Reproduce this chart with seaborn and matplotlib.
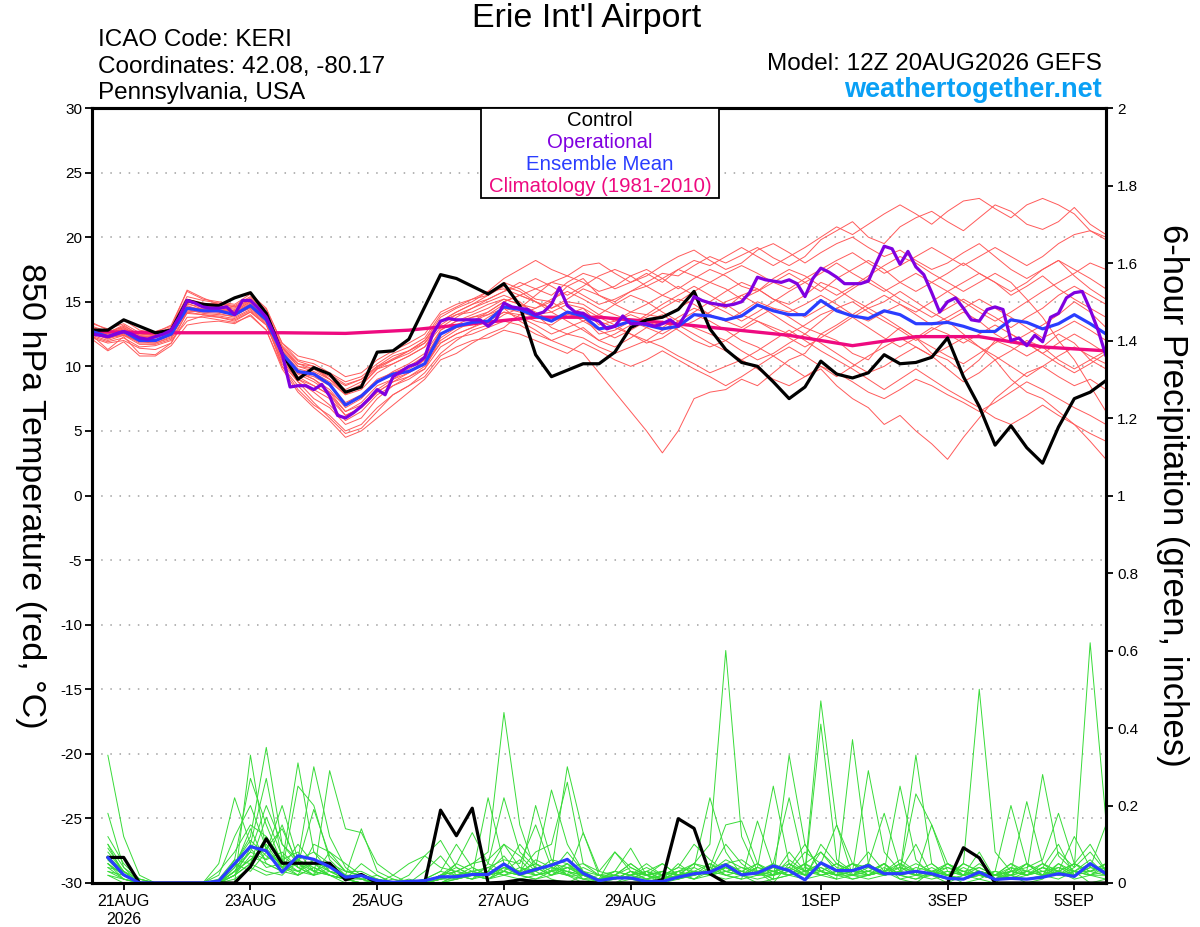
import matplotlib
matplotlib.use('Agg')
import matplotlib.pyplot as plt
from matplotlib.patches import Rectangle
import numpy as np
import pandas as pd
import seaborn as sns

# time axes: 6-hourly ensemble, 3-hourly operational, daily climatology
times_6h = pd.date_range('2026-08-20 12:00', '2026-09-05 12:00', freq='6h')
times_3h = pd.date_range('2026-08-20 12:00', '2026-09-05 12:00', freq='3h')
times_clim = pd.date_range('2026-08-20 12:00', '2026-09-05 12:00', freq='1D')
precip_times = times_6h[1:]

tick_dates = pd.to_datetime(['2026-08-21', '2026-08-23', '2026-08-25', '2026-08-27',
                             '2026-08-29', '2026-09-01', '2026-09-03', '2026-09-05'])
tick_labels = ['21AUG\n2026', '23AUG', '25AUG', '27AUG', '29AUG', '1SEP', '3SEP', '5SEP']

# 850 hPa temperature (C)
control_temp = [12.8, 12.8, 13.6, 13.1, 12.6, 12.8, 15.1, 14.8, 14.7, 15.3, 15.7, 14.1,
                11.0, 9.0, 9.9, 9.4, 8.0, 8.4, 11.1, 11.2, 12.1, 14.6,
                17.1, 16.8, 16.2, 15.6, 16.4, 14.7, 10.9, 9.2, 9.7, 10.2, 10.2,
                11.1, 13.0, 13.6, 13.8, 14.4, 15.8, 12.9, 11.3, 10.3, 10.0, 8.8,
                7.5, 8.4, 10.4, 9.4, 9.1, 9.5, 10.9, 10.2, 10.3, 10.7, 12.2,
                9.2, 6.9, 3.9, 5.4, 3.7, 2.5, 5.3, 7.5, 8.0, 8.9]

mean_temp = [12.7, 12.3, 12.7, 12.0, 12.0, 12.5, 14.5, 14.3, 14.3, 14.0, 14.7, 13.6,
             11.0, 9.6, 9.4, 8.6, 7.0, 7.7, 8.8, 9.4, 9.6, 10.2,
             12.5, 13.1, 13.4, 13.5, 14.6, 14.4, 13.9, 13.5, 14.2, 13.9, 12.9,
             13.1, 13.5, 13.2, 12.9, 13.1, 14.0, 13.9, 13.6, 13.9, 14.75, 14.3,
             14.0, 14.0, 15.1, 14.3, 13.9, 13.7, 14.3, 14.0, 13.3, 13.3, 13.4,
             13.1, 12.7, 12.7, 13.6, 13.4, 12.9, 13.3, 14.0, 13.3, 12.5]

oper_temp = [12.5, 12.4, 12.3, 12.5, 12.7, 12.5, 12.2, 12.1, 12.3, 12.5, 12.8, 13.8,
             15.1, 14.9, 14.6, 14.5, 14.5, 14.6, 14.0, 15.1, 15.1, 14.5, 13.8, 12.5,
             11.0, 8.4, 8.5, 8.5, 8.2, 8.6, 7.7, 6.2, 6.0, 6.4, 6.9, 7.5,
             8.2, 7.8, 9.2, 9.6, 10.0, 10.2, 10.7, 12.5, 13.5, 13.7, 13.6, 13.6,
             13.6, 13.6, 13.1, 13.6, 14.9,
             14.6, 14.5, 14.4, 14.0, 14.2, 14.8, 16.1, 14.7, 14.2, 14.1, 13.7, 13.5,
             12.9, 13.1, 13.9, 13.3, 13.3, 13.3, 13.1, 13.3, 13.6, 13.1, 14.1, 15.4,
             15.1, 14.9, 14.8, 14.7, 14.8, 15.0, 15.7, 16.9, 16.7, 16.6, 16.5, 16.7,
             16.4, 15.4,
             16.8, 17.6, 17.3, 16.9, 16.4, 16.4, 16.4, 16.6, 18.0, 19.3, 19.1, 17.9,
             18.9, 17.7, 17.1, 15.7, 14.2, 15.0, 15.3, 14.5, 13.6, 13.5, 14.4, 14.6,
             14.4, 12.0, 12.2, 11.6, 12.4, 11.9, 13.8, 14.1, 15.3, 15.7, 15.8, 14.4,
             12.8, 10.8]

clim_temp = [12.7, 12.6, 12.6, 12.6, 12.55, 12.8, 13.3, 13.8, 13.8, 13.4, 12.9,
             12.4, 11.6, 12.3, 12.3, 11.5, 11.2]

temp_members = [
    [13.0, 12.6, 13.2, 12.4, 12.5, 13.0, 15.9, 15.3, 14.8, 14.6, 15.3, 14.2,
     11.5, 10.2, 10.0, 9.0, 8.0, 8.6, 9.8, 10.5, 11.0, 11.8,
     13.5, 14.2, 14.8, 15.5, 16.5, 16.0, 15.2, 15.0, 16.2, 16.8, 15.5,
     15.0, 15.8, 16.5, 17.2, 17.0, 17.8, 18.5, 18.0, 18.6, 19.2, 18.4,
     17.8, 18.5, 19.8, 20.5, 21.2, 20.0, 19.5, 20.8, 21.5, 22.0, 21.2,
     20.5, 21.5, 22.5, 22.0, 21.0, 20.6, 21.2, 22.3, 21.0, 20.2],
    [12.4, 11.3, 12.3, 11.0, 10.9, 11.8, 14.2, 14.0, 13.8, 13.5, 14.2, 13.2,
     10.5, 8.8, 7.5, 6.8, 5.5, 6.0, 7.5, 8.5, 9.2, 10.0,
     11.8, 12.5, 13.0, 13.8, 14.5, 13.5, 12.8, 12.0, 11.5, 11.0, 9.5,
     8.0, 6.5, 5.0, 3.3, 5.0, 7.5, 8.0, 8.2, 9.0, 8.5, 9.5,
     10.5, 11.0, 12.5, 12.0, 11.0, 10.5, 12.0, 13.0, 12.2, 11.0, 10.5,
     9.5, 10.5, 12.0, 11.5, 10.8, 11.5, 12.5, 11.8, 10.5, 9.8],
    [12.8, 12.5, 12.9, 12.2, 12.3, 12.6, 14.8, 14.6, 14.5, 14.2, 14.8, 13.8,
     10.8, 9.5, 9.0, 8.0, 6.5, 7.2, 8.5, 9.0, 9.8, 10.5,
     12.8, 13.5, 14.0, 14.5, 15.2, 14.8, 14.2, 13.5, 14.0, 13.8, 12.5,
     12.8, 13.5, 13.0, 12.5, 13.2, 14.0, 13.5, 12.8, 12.0, 11.5, 10.8,
     10.0, 9.2, 9.8, 8.5, 7.5, 6.8, 5.5, 6.2, 5.0, 4.0, 2.8,
     4.5, 6.0, 7.5, 8.5, 9.5, 10.0, 9.2, 8.5, 9.0, 8.2],
    [13.4, 12.8, 13.6, 12.8, 12.6, 13.2, 15.8, 15.2, 15.0, 14.8, 15.6, 14.5,
     11.8, 10.5, 10.2, 9.5, 8.8, 9.2, 10.2, 11.0, 11.5, 12.2,
     14.0, 14.6, 15.2, 15.8, 16.0, 15.5, 15.0, 14.5, 15.0, 14.8, 14.0,
     13.5, 14.2, 14.0, 13.8, 14.5, 15.2, 15.0, 14.5, 15.5, 16.0, 15.2,
     14.8, 15.5, 16.5, 16.0, 15.2, 14.5, 15.0, 15.8, 15.0, 14.2, 13.5,
     12.5, 11.5, 10.5, 9.0, 8.0, 7.5, 6.5, 5.5, 4.2, 2.8],
    [12.5, 12.2, 12.5, 11.8, 11.8, 12.2, 14.5, 14.5, 14.2, 14.0, 14.5, 13.5,
     10.0, 8.5, 7.2, 6.0, 4.8, 5.2, 6.5, 7.8, 8.5, 9.5,
     11.0, 12.0, 12.8, 13.2, 14.0, 14.5, 15.5, 16.5, 17.0, 16.5, 15.8,
     16.2, 17.0, 17.5, 16.8, 16.0, 16.8, 17.5, 17.0, 16.2, 15.8, 16.5,
     17.2, 16.5, 15.8, 16.8, 17.5, 18.2, 17.5, 16.5, 15.8, 16.5, 17.2,
     18.0, 17.2, 16.5, 15.5, 16.2, 17.0, 16.0, 15.2, 14.5, 13.8],
    [12.9, 12.4, 12.8, 12.0, 12.2, 12.7, 14.9, 14.4, 14.6, 14.3, 15.0, 13.9,
     11.2, 9.8, 9.5, 8.8, 7.8, 8.5, 9.8, 10.2, 10.8, 11.5,
     13.0, 13.8, 14.5, 15.0, 15.5, 15.0, 14.0, 13.0, 12.5, 13.0, 12.0,
     11.5, 12.2, 13.0, 13.5, 12.8, 12.0, 11.5, 12.0, 11.2, 10.5, 11.0,
     11.8, 12.5, 11.8, 11.0, 10.2, 9.5, 10.0, 10.8, 11.5, 10.8, 9.8,
     8.8, 9.5, 10.5, 11.2, 12.0, 11.5, 10.5, 9.8, 10.5, 11.2],
    [13.1, 12.7, 13.0, 12.3, 12.4, 12.9, 15.2, 14.9, 14.7, 14.5, 15.2, 14.0,
     11.5, 10.0, 9.8, 9.2, 8.5, 9.0, 10.0, 10.8, 11.2, 12.0,
     13.8, 14.5, 15.0, 15.8, 16.8, 17.5, 18.2, 17.5, 17.0, 17.8, 18.0,
     17.2, 16.5, 17.0, 17.8, 18.5, 19.0, 18.2, 17.5, 18.0, 19.0, 19.5,
     18.8, 18.0, 18.8, 19.5, 20.0, 19.2, 18.5, 19.0, 18.2, 17.5, 18.0,
     18.8, 19.5, 18.5, 17.5, 16.8, 17.5, 18.2, 17.0, 16.0, 15.2],
    [12.6, 12.1, 12.6, 12.0, 11.9, 12.4, 14.3, 14.2, 14.1, 13.8, 14.4, 13.4,
     10.6, 9.0, 8.2, 7.5, 6.2, 6.8, 8.0, 8.8, 9.2, 9.8,
     12.2, 13.0, 13.2, 13.5, 14.2, 14.0, 13.5, 13.2, 14.0, 14.5, 13.8,
     13.2, 12.5, 11.8, 12.2, 13.0, 13.5, 14.2, 15.0, 15.5, 14.8, 14.0,
     13.2, 12.5, 13.5, 14.5, 15.0, 14.2, 13.5, 12.8, 12.0, 12.8, 13.5,
     14.2, 13.5, 12.5, 11.8, 12.5, 13.2, 14.0, 15.0, 14.2, 13.0],
    [12.3, 11.9, 12.2, 11.5, 11.6, 12.0, 13.5, 13.9, 13.8, 13.6, 14.2, 13.2,
     10.2, 8.8, 8.0, 7.0, 5.8, 6.5, 7.8, 8.5, 9.0, 9.8,
     11.5, 12.2, 12.5, 13.0, 13.5, 13.2, 12.5, 12.0, 12.5, 12.2, 11.5,
     11.0, 11.5, 12.0, 11.5, 10.8, 10.2, 9.5, 10.0, 10.5, 9.8, 9.0,
     8.5, 9.2, 10.0, 9.5, 8.8, 8.0, 7.5, 8.2, 9.0, 8.5, 7.8,
     7.2, 6.5, 7.2, 8.0, 8.8, 8.2, 7.5, 6.8, 6.2, 5.5],
    [12.7, 12.3, 12.6, 12.1, 12.0, 12.5, 14.6, 14.4, 14.4, 14.1, 14.8, 13.7,
     11.0, 9.5, 9.2, 8.5, 7.2, 7.8, 9.0, 9.5, 10.0, 10.8,
     12.5, 13.2, 13.8, 14.0, 14.8, 14.5, 14.0, 14.2, 14.8, 14.5, 13.2,
     13.5, 14.0, 13.5, 13.0, 13.8, 14.5, 14.0, 13.5, 14.2, 15.0, 14.5,
     14.2, 14.8, 15.5, 14.8, 14.0, 13.5, 14.2, 14.8, 14.0, 13.2, 13.8,
     14.5, 15.2, 14.5, 13.8, 13.0, 12.2, 12.8, 13.5, 12.8, 12.0],
    [12.2, 11.8, 12.0, 11.4, 11.3, 11.8, 13.8, 13.8, 13.6, 13.4, 13.9, 12.8,
     9.8, 8.0, 6.8, 5.8, 4.5, 5.0, 6.0, 7.0, 8.0, 9.0,
     10.5, 11.0, 11.8, 12.5, 13.0, 14.0, 14.5, 15.0, 14.2, 13.5, 14.0,
     14.8, 15.5, 15.0, 14.2, 13.5, 14.2, 15.0, 15.8, 16.5, 16.0, 15.2,
     14.5, 13.8, 14.5, 15.2, 16.0, 16.8, 16.0, 15.2, 14.5, 13.8, 14.5,
     15.2, 14.5, 13.8, 13.0, 13.8, 14.5, 15.5, 16.2, 15.5, 14.8],
    [13.0, 12.6, 13.1, 12.5, 12.4, 12.8, 15.0, 14.8, 14.9, 14.6, 15.1, 14.1,
     11.3, 10.0, 9.6, 9.0, 8.2, 8.8, 9.9, 10.6, 11.2, 11.8,
     13.2, 14.0, 14.5, 15.2, 15.8, 16.5, 16.0, 15.5, 16.5, 17.2, 16.8,
     16.0, 16.5, 17.2, 16.5, 17.5, 18.2, 17.8, 18.5, 19.2, 18.5, 17.8,
     18.5, 19.2, 20.0, 20.8, 20.2, 21.0, 21.8, 22.5, 21.8, 21.0, 22.0,
     22.8, 23.0, 22.2, 21.5, 22.5, 23.0, 22.5, 21.8, 20.5, 19.8],
    [12.8, 12.4, 12.7, 12.2, 12.2, 12.6, 14.7, 14.3, 14.4, 14.2, 14.9, 13.8,
     11.0, 9.6, 9.0, 8.2, 6.8, 7.5, 8.8, 9.6, 10.2, 11.0,
     12.8, 13.5, 13.8, 14.2, 15.0, 15.5, 15.0, 14.2, 13.5, 12.8, 12.0,
     12.5, 13.2, 14.0, 14.8, 15.5, 16.2, 15.5, 14.8, 14.0, 13.5, 12.8,
     12.2, 11.5, 12.2, 13.0, 13.8, 14.5, 13.8, 13.0, 12.2, 11.5, 10.8,
     10.2, 11.0, 11.8, 12.5, 11.8, 11.0, 10.2, 9.5, 10.2, 11.0],
    [12.5, 12.2, 12.4, 11.9, 11.8, 12.3, 14.4, 14.1, 14.0, 13.9, 14.6, 13.5,
     10.8, 9.2, 8.5, 7.8, 6.5, 7.0, 8.2, 9.0, 9.5, 10.5,
     12.0, 12.8, 13.5, 14.2, 15.0, 15.5, 16.0, 16.5, 16.2, 15.5, 14.8,
     15.2, 15.8, 16.2, 15.5, 15.0, 15.8, 16.5, 16.0, 15.2, 15.8, 16.8,
     17.5, 17.0, 16.2, 15.5, 16.2, 17.0, 17.8, 18.5, 18.0, 17.2, 16.5,
     15.8, 16.5, 17.2, 16.5, 15.2, 13.8, 12.0, 10.5, 8.5, 6.5],
    [13.3, 12.9, 13.3, 12.6, 12.7, 13.1, 15.4, 15.1, 14.9, 14.7, 15.4, 14.4,
     11.8, 10.8, 10.5, 10.0, 9.2, 9.5, 10.5, 11.2, 11.8, 12.5,
     14.2, 14.8, 15.2, 15.5, 16.2, 15.8, 15.0, 14.5, 15.2, 16.0, 15.5,
     14.8, 14.2, 14.8, 15.5, 16.2, 15.5, 14.8, 14.2, 13.5, 14.2, 15.0,
     15.8, 16.5, 17.2, 18.0, 17.2, 16.5, 15.8, 16.5, 17.2, 16.5, 15.8,
     15.0, 14.2, 13.5, 14.2, 15.0, 15.8, 16.5, 17.2, 18.0, 17.5],
    [12.4, 12.0, 12.4, 11.7, 11.7, 12.1, 14.1, 14.0, 13.9, 13.7, 14.3, 13.3,
     10.4, 9.0, 8.5, 7.8, 6.2, 6.8, 8.0, 8.8, 9.5, 10.2,
     11.8, 12.5, 13.0, 13.5, 14.2, 13.8, 13.2, 12.5, 13.0, 13.5, 12.8,
     12.2, 12.8, 13.5, 14.0, 13.2, 12.5, 11.8, 11.2, 10.5, 11.2, 12.0,
     12.8, 12.0, 11.2, 10.5, 9.8, 9.0, 8.2, 9.0, 9.8, 9.0, 8.2,
     7.5, 6.8, 6.0, 5.5, 6.2, 7.0, 6.2, 5.5, 4.8, 4.2],
    [12.9, 12.5, 12.9, 12.3, 12.3, 12.7, 15.0, 14.7, 14.5, 14.3, 15.0, 14.0,
     11.4, 10.2, 9.8, 9.0, 7.8, 8.2, 9.5, 10.2, 10.8, 11.5,
     13.5, 14.0, 14.2, 14.8, 15.2, 14.8, 14.5, 15.2, 15.8, 15.2, 14.5,
     14.0, 13.5, 13.8, 14.5, 15.2, 14.8, 14.0, 13.5, 13.0, 13.8, 14.5,
     13.8, 13.0, 12.5, 13.2, 14.0, 14.8, 15.5, 14.8, 14.2, 15.0, 15.8,
     16.5, 17.2, 16.5, 15.8, 16.5, 17.5, 18.2, 17.5, 16.8, 16.0],
    [12.6, 12.2, 12.5, 11.9, 12.0, 12.4, 14.2, 14.3, 14.2, 14.0, 14.6, 13.6,
     10.9, 9.4, 8.8, 8.0, 7.0, 7.6, 8.8, 9.4, 10.0, 10.6,
     12.5, 13.0, 13.5, 14.0, 14.5, 14.2, 13.8, 13.5, 13.8, 14.2, 13.5,
     13.0, 12.5, 12.0, 12.8, 13.5, 13.0, 12.5, 12.0, 12.8, 13.5, 13.0,
     12.5, 13.2, 14.0, 14.5, 13.8, 13.0, 12.2, 11.5, 12.2, 13.0, 12.5,
     11.8, 12.5, 13.2, 12.5, 11.8, 11.0, 11.8, 12.5, 11.8, 11.0],
    [12.1, 11.2, 11.9, 10.8, 10.8, 11.6, 13.2, 13.4, 13.5, 13.3, 14.0, 12.8,
     10.0, 8.2, 7.0, 6.2, 5.0, 5.5, 6.8, 7.8, 8.5, 9.2,
     10.8, 11.5, 12.0, 12.2, 12.8, 12.5, 12.0, 11.5, 11.0, 11.8, 11.2,
     10.5, 10.0, 10.5, 11.2, 10.5, 9.8, 9.2, 8.5, 9.2, 10.0, 10.8,
     11.5, 10.8, 10.0, 9.2, 10.0, 10.8, 11.5, 12.2, 11.5, 10.8, 11.5,
     12.2, 11.5, 10.8, 10.0, 9.2, 10.0, 10.8, 11.5, 10.8, 10.2],
    [13.0, 12.5, 13.0, 12.4, 12.5, 12.9, 15.1, 14.6, 14.7, 14.4, 15.1, 14.1,
     11.6, 10.4, 10.0, 9.4, 8.6, 9.0, 10.0, 10.5, 11.2, 12.0,
     13.5, 14.2, 14.8, 15.2, 15.8, 16.2, 16.8, 16.2, 15.5, 16.2, 17.0,
     17.5, 17.0, 16.2, 16.8, 17.5, 17.0, 16.5, 17.2, 17.8, 17.2, 16.5,
     16.0, 16.8, 17.5, 18.2, 18.8, 18.0, 17.2, 17.8, 18.5, 19.2, 18.5,
     17.8, 18.5, 19.2, 18.5, 17.8, 18.5, 19.5, 20.2, 20.5, 20.0],
]

# 6-hour precipitation (inches), valid 20AUG18Z .. 5SEP12Z
control_precip = [0.066, 0.066, 0, 0, 0, 0, 0, 0,
                  0, 0.042, 0.114, 0.051, 0.051, 0.051, 0.051, 0.008,
                  0.022, 0, 0, 0, 0, 0.188, 0.122, 0.193,
                  0, 0.002, 0.008, 0.004, 0.004, 0.002, 0.002, 0,
                  0, 0, 0, 0.008, 0.166, 0.141, 0.024, 0,
                  0, 0, 0, 0, 0, 0, 0, 0,
                  0, 0, 0, 0, 0, 0, 0.091, 0.065,
                  0, 0, 0, 0, 0, 0, 0, 0]

mean_precip = [0.066, 0.021, 0, 0, 0, 0, 0, 0.005,
               0.05, 0.094, 0.083, 0.028, 0.07, 0.061, 0.042, 0.015,
               0.019, 0.006, 0.002, 0.004, 0.006, 0.016, 0.016, 0.022,
               0.022, 0.049, 0.023, 0.035, 0.046, 0.061, 0.025, 0.006,
               0.013, 0.013, 0.004, 0.004, 0.015, 0.024, 0.028, 0.047,
               0.021, 0.026, 0.044, 0.032, 0.008, 0.052, 0.032, 0.032,
               0.045, 0.024, 0.024, 0.030, 0.024, 0.012, 0.010, 0.028,
               0.009, 0.012, 0.010, 0.015, 0.024, 0.017, 0.050, 0.024]

precip_members = [
    [.33, .12, .02, 0, 0, 0, 0, 0, .05, .12, .35, .10, .06, .04, .02, 0,
     0, 0, 0, 0, 0, .02, .03, .05, .08, .44, .15, .03, .01, 0, .02, 0,
     0, .02, 0, .01, .03, .05, .10, .60, .12, .03, 0, .05, .02, .08, .03, .01,
     .02, .05, .01, 0, .03, .02, 0, .01, 0, .03, .05, .02, .08, .04, .62, .16],
    [.18, .04, 0, 0, 0, 0, 0, 0, .06, .27, .15, .05, .31, .08, .03, .01,
     0, 0, 0, .02, .07, .11, .04, .02, .22, .05, .02, .20, .06, .02, 0, .01,
     .03, .09, .02, 0, .01, .04, .22, .08, .02, 0, .01, .33, .10, .03, .01, .37,
     .05, .02, .03, .10, .02, 0, .02, .08, .01, .02, 0, .01, .05, .03, 0, .01],
    [.09, .03, 0, 0, 0, 0, 0, 0, 0, .33, .08, .20, .06, .30, .12, .04,
     .01, 0, 0, 0, 0, .02, .05, .13, .05, .22, .08, .04, .24, .10, .03, 0,
     0, .01, .03, .05, .02, .01, .04, .15, .16, .05, .02, .08, .03, .47, .15, .05,
     .02, .03, .25, .06, .02, .01, .05, .50, .08, .03, .02, .04, .10, .02, .05, .02],
    [.06, .02, 0, 0, 0, 0, 0, .05, .22, .10, .27, .06, .03, .02, .29, .14,
     .13, .05, .02, 0, .03, .07, .02, .01, .03, .10, .04, .02, .03, .30, .13, .03,
     .08, .03, .01, 0, .02, .03, .05, .02, .01, .16, .04, .02, .05, .03, .02, .03,
     .29, .08, .03, .02, .15, .03, .02, .01, .03, .20, .05, .02, .01, .03, .06, .02],
    [.05, .02, 0, 0, 0, 0, 0, 0, .03, .08, .20, .10, .05, .19, .07, .03,
     .02, 0, 0, 0, .01, .03, .10, .04, .02, .05, .03, .08, .10, .26, .05, .03,
     .02, .01, 0, .02, .04, .10, .06, .03, .02, .04, .25, .05, .02, .41, .06, .03,
     .05, .18, .04, .02, .02, .05, .03, .02, .01, .03, .21, .05, .03, .02, .04, .15],
    [.04, .03, .01, 0, 0, 0, 0, 0, .02, .05, .17, .07, .04, .05, .03, .02,
     .01, 0, .02, .05, .07, .04, .03, .02, .01, .04, .03, .05, .03, .08, .03, .01,
     .08, .04, .02, .01, .05, .02, .03, .04, .02, .03, .05, .22, .04, .03, .02, .05,
     .04, .02, .03, .33, .05, .02, .03, .04, .02, .04, .03, .28, .07, .03, .02, .05],
    [.03, .01, 0, 0, 0, 0, 0, .02, .12, .20, .09, .14, .05, .03, .05, .02,
     .14, .03, .01, 0, 0, .01, .02, .03, .04, .06, .05, .15, .04, .02, .13, .02,
     .01, .03, .02, .05, .02, .03, .02, .05, .03, .02, .04, .03, .08, .05, .02, .03,
     .05, .02, .03, .23, .15, .05, .02, .03, .02, .03, .04, .06, .18, .05, .03, .02],
    [.02, .01, 0, 0, 0, 0, 0, 0, .04, .14, .05, .03, .25, .20, .06, .02,
     .01, 0, 0, 0, 0, .01, .02, .04, .02, .03, .10, .05, .03, .04, .05, .02,
     .02, .05, .02, .03, .02, .05, .03, .10, .05, .02, .03, .05, .03, .05, .15, .02,
     .03, .05, .02, .03, .02, .05, .03, .02, .01, .02, .03, .05, .03, .12, .04, .03],
    [.10, .04, .01, 0, 0, 0, 0, 0, .03, .06, .10, .04, .10, .05, .04, .02,
     .02, 0, 0, 0, 0, .02, .04, .02, .01, .02, .04, .03, .05, .02, .01, 0,
     .01, .02, .01, .03, .01, .02, .03, .04, .02, .05, .03, .02, .01, .10, .05, .03,
     .08, .03, .05, .02, .01, .02, .05, .03, .02, .05, .03, .02, .03, .05, .10, .03],
    [.07, .02, 0, 0, 0, 0, 0, .03, .08, .15, .12, .06, .08, .03, .02, .01,
     .05, .02, 0, 0, 0, .01, .05, .03, .02, .05, .02, .01, .03, .02, .04, .02,
     .01, .03, .02, .01, .03, .02, .05, .03, .04, .02, .02, .03, .05, .02, .03, .05,
     .03, .05, .02, .03, .05, .02, .01, .02, .03, .02, .05, .03, .02, .04, .08, .03],
    [.05, .01, 0, 0, 0, 0, 0, 0, .02, .09, .04, .05, .02, .10, .08, .05,
     .02, .01, 0, .01, 0, 0, .01, .02, .01, .03, .02, .04, .02, .05, .02, .01,
     .02, .01, .03, .01, .02, .05, .04, .02, .03, .05, .02, .04, .10, .03, .05, .03,
     .02, .03, .06, .03, .02, .03, .02, .04, .02, .05, .02, .03, .04, .02, .03, .05],
    [.02, 0, 0, 0, 0, 0, 0, 0, .01, .04, .02, .03, .02, .04, .02, .01,
     .01, 0, 0, 0, 0, 0, .01, .02, .03, .02, .01, .02, .04, .03, .02, .01,
     .02, .01, .02, .01, .02, .03, .02, .01, .02, .01, .02, .03, .02, .04, .02, .01,
     .02, .03, .01, .02, .03, .02, .01, .02, .01, .02, .01, .02, .03, .01, .02, .01],
    [.08, .03, 0, 0, 0, 0, 0, 0, .05, .03, .08, .05, .03, .05, .02, .01,
     0, 0, .01, 0, 0, .01, .03, .05, .06, .10, .07, .03, .05, .04, .02, .01,
     .03, .02, .05, .02, .01, .02, .04, .05, .06, .03, .01, .02, .03, .05, .03, .02,
     .05, .02, .03, .05, .03, .02, .04, .02, .03, .02, .05, .02, .04, .03, .03, .04],
    [.03, .02, 0, 0, 0, 0, 0, .01, .06, .05, .12, .04, .06, .08, .05, .03,
     .02, .01, 0, 0, .01, .03, .02, .01, .02, .04, .02, .06, .04, .03, .02, .01,
     .01, .02, .03, .02, .04, .03, .02, .03, .02, .04, .03, .02, .05, .08, .04, .03,
     .03, .02, .05, .03, .02, .01, .02, .03, .02, .03, .02, .05, .02, .03, .05, .02],
    [.06, .02, 0, 0, 0, 0, 0, 0, .02, .07, .05, .03, .05, .02, .03, .01,
     0, .01, 0, 0, 0, 0, .02, .03, .02, .03, .06, .02, .03, .05, .01, .02,
     .01, .03, .01, .02, .03, .01, .02, .05, .03, .02, .05, .03, .01, .02, .03, .05,
     .02, .04, .02, .01, .03, .05, .02, .03, .02, .01, .03, .02, .05, .02, .04, .03],
    [.12, .05, .01, 0, 0, 0, 0, 0, .03, .10, .06, .15, .04, .02, .08, .03,
     .03, .01, 0, 0, 0, .02, .03, .02, .01, .03, .02, .01, .02, .04, .02, .01,
     .02, .05, .02, .03, .02, .01, .03, .02, .01, .02, .03, .04, .02, .03, .05, .02,
     .04, .03, .02, .01, .02, .04, .03, .02, .01, .04, .02, .03, .02, .05, .02, .03],
    [.04, .01, 0, 0, 0, 0, 0, 0, .02, .05, .03, .02, .06, .03, .02, .01,
     .02, 0, 0, 0, 0, 0, .02, .01, .05, .03, .02, .04, .02, .03, .01, .01,
     .02, .01, .01, .02, .01, .03, .02, .04, .02, .03, .01, .02, .03, .02, .01, .02,
     .01, .02, .03, .02, .04, .02, .01, .02, .02, .01, .02, .04, .02, .03, .02, .02],
    [.07, .03, 0, 0, 0, 0, 0, 0, .05, .11, .07, .04, .03, .06, .03, .02,
     .01, 0, 0, 0, 0, .01, .01, .02, .03, .07, .02, .03, .06, .05, .02, .01,
     .02, .04, .02, .03, .02, .02, .03, .06, .04, .03, .02, .06, .03, .04, .02, .03,
     .02, .05, .02, .04, .03, .02, .05, .03, .02, .03, .02, .04, .03, .05, .03, .05],
    [.10, .02, 0, 0, 0, 0, 0, 0, .04, .08, .06, .08, .04, .02, .04, .02,
     .01, .02, 0, 0, 0, .01, .02, .03, .02, .04, .03, .05, .02, .04, .03, .02,
     .03, .02, .04, .02, .03, .04, .02, .03, .02, .04, .03, .02, .04, .02, .03, .02,
     .02, .03, .04, .02, .03, .04, .02, .03, .02, .03, .02, .04, .02, .03, .02, .04],
    [.05, .02, 0, 0, 0, 0, 0, 0, .03, .06, .09, .04, .02, .04, .02, .01,
     0, 0, 0, 0, 0, .02, .01, .02, .04, .02, .03, .02, .03, .02, .02, .01,
     .01, .02, .03, .01, .02, .03, .02, .04, .02, .03, .02, .04, .02, .03, .02, .02,
     .03, .02, .04, .03, .02, .03, .02, .05, .02, .02, .03, .02, .03, .02, .05, .02],
]

# long tables for seaborn
temp_df = pd.DataFrame(
    [(m, t, v) for m, row in enumerate(temp_members) for t, v in zip(times_6h, row, strict=True)],
    columns=['member', 'time', 'temp'])
precip_df = pd.DataFrame(
    [(m, t, v) for m, row in enumerate(precip_members) for t, v in zip(precip_times, row, strict=True)],
    columns=['member', 'time', 'precip'])
ctrl_t = pd.DataFrame({'time': times_6h, 'temp': control_temp})
mean_t = pd.DataFrame({'time': times_6h, 'temp': mean_temp})
oper_t = pd.DataFrame({'time': times_3h, 'temp': oper_temp})
clim_t = pd.DataFrame({'time': times_clim, 'temp': clim_temp})
ctrl_p = pd.DataFrame({'time': precip_times, 'precip': control_precip})
mean_p = pd.DataFrame({'time': precip_times, 'precip': mean_precip})

sns.set_style('ticks')
plt.rcParams['font.family'] = ['Liberation Sans', 'DejaVu Sans']
for key in ('text.color', 'axes.labelcolor', 'xtick.color', 'ytick.color', 'axes.edgecolor'):
    plt.rcParams[key] = 'black'

RED = '#ff5a5a'
GREEN = '#38db38'
PURPLE = '#8000e0'
BLUE = '#2a3dff'
PINK = '#ee0a80'

fig = plt.figure(figsize=(12, 9.27), dpi=100)
ax = fig.add_axes([92 / 1200, 1 - 883 / 927, (1106 - 92) / 1200, (883 - 108) / 927])
ax2 = ax.twinx()

# temperature
sns.lineplot(data=temp_df, x='time', y='temp', units='member', estimator=None,
             color=RED, linewidth=0.7, ax=ax, legend=False)
sns.lineplot(data=clim_t, x='time', y='temp', color=PINK, linewidth=2.4, ax=ax)
sns.lineplot(data=ctrl_t, x='time', y='temp', color='black', linewidth=2.3, ax=ax)
sns.lineplot(data=mean_t, x='time', y='temp', color=BLUE, linewidth=2.3, ax=ax)
sns.lineplot(data=oper_t, x='time', y='temp', color=PURPLE, linewidth=2.3, ax=ax)

# precipitation
sns.lineplot(data=precip_df, x='time', y='precip', units='member', estimator=None,
             color=GREEN, linewidth=0.7, ax=ax2, legend=False)
sns.lineplot(data=ctrl_p, x='time', y='precip', color='black', linewidth=2.3, ax=ax2)
sns.lineplot(data=mean_p, x='time', y='precip', color=BLUE, linewidth=2.3, ax=ax2)

ax.set_xlim(times_6h[0], times_6h[-1])
ax.set_ylim(-30, 30)
ax2.set_ylim(0, 2)
left_ticks = list(range(-30, 31, 5))
ax.set_yticks(left_ticks)
ax.set_yticklabels([str(v) for v in left_ticks])
right_ticks = [round(v * 0.2, 1) for v in range(11)]
ax2.set_yticks(right_ticks)
ax2.set_yticklabels(['%g' % v for v in right_ticks])
ax.set_xticks(tick_dates)
ax.set_xticklabels(tick_labels)
ax.set_xlabel('')
ax.set_ylabel('')
ax2.set_ylabel('')

ax.yaxis.grid(True, linestyle=(0, (1, 5)), color='#a0a0a0', linewidth=1.1)
ax.set_axisbelow(True)

for a in (ax, ax2):
    for s in a.spines.values():
        s.set_linewidth(2.2)
        s.set_color('black')
ax.tick_params(axis='y', direction='out', length=5, width=1.3, labelsize=11, pad=2)
ax.tick_params(axis='x', direction='out', length=5, width=1.3, labelsize=11.5, pad=3)
ax2.tick_params(axis='y', direction='out', length=5, width=1.3, labelsize=11, pad=3)

# header texts
fig.text(587 / 1200, 1 - 18 / 927, "Erie Int'l Airport", fontsize=24.5, ha='center', va='center')
fig.text(98 / 1200, 1 - 40 / 927, 'ICAO Code: KERI', fontsize=17.5, ha='left', va='center')
fig.text(98 / 1200, 1 - 67 / 927, 'Coordinates: 42.08, -80.17', fontsize=17.5, ha='left', va='center')
fig.text(98 / 1200, 1 - 93 / 927, 'Pennsylvania, USA', fontsize=17.5, ha='left', va='center')
fig.text(1102 / 1200, 1 - 64 / 927, 'Model: 12Z 20AUG2026 GEFS', fontsize=17.5, ha='right', va='center')
fig.text(1102 / 1200, 1 - 90 / 927, 'weathertogether.net', fontsize=19.5, fontweight='bold',
         color='#0aa0f5', ha='right', va='center')

# axis titles
fig.text(30 / 1200, 1 - 496 / 927, '850 hPa Temperature (red, °C)', fontsize=24.5,
         rotation=270, ha='center', va='center')
fig.text(1172 / 1200, 1 - 495 / 927, '6-hour Precipitation (green, inches)', fontsize=25,
         rotation=270, ha='center', va='center')

# legend box
fig.add_artist(Rectangle((481 / 1200, 1 - 198 / 927), 238 / 1200, 90 / 927,
                         transform=fig.transFigure, facecolor='white',
                         edgecolor='black', linewidth=1.3, zorder=5))
legend_items = [('Control', 'black', 121), ('Operational', PURPLE, 142),
                ('Ensemble Mean', BLUE, 164), ('Climatology (1981-2010)', PINK, 186)]
for label, col, yy in legend_items:
    fig.text(600 / 1200, 1 - yy / 927, label, color=col, fontsize=14.7, ha='center',
             va='center', zorder=6)

fig.savefig('out.png', dpi=100)
